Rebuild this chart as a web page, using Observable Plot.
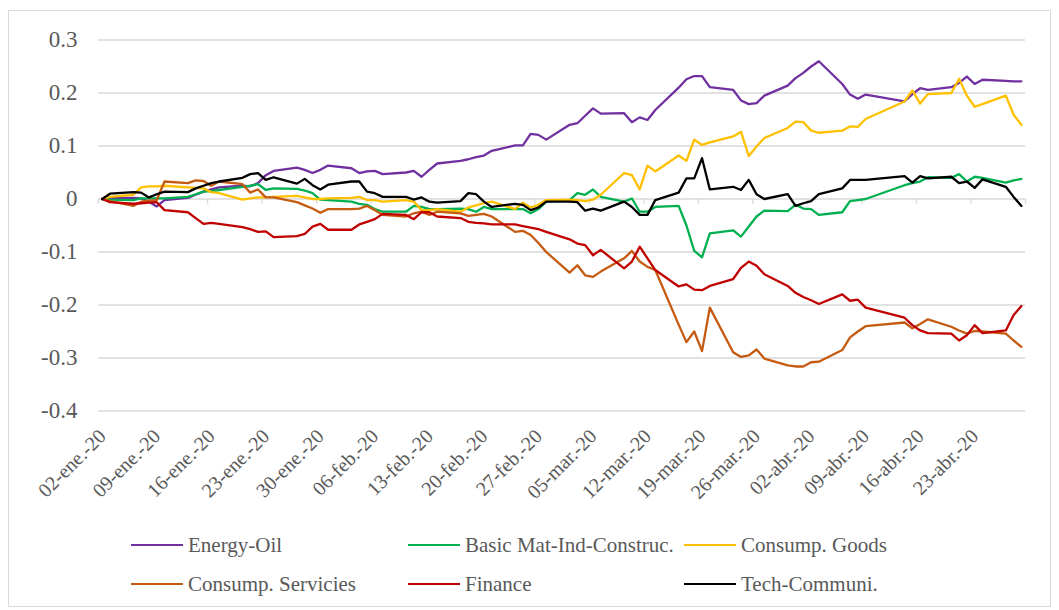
<!DOCTYPE html>
<html>
<head>
<meta charset="utf-8">
<script src="https://cdn.jsdelivr.net/npm/d3@7"></script>
<script src="https://cdn.jsdelivr.net/npm/@observablehq/plot@0.6"></script>
<style>
  html, body { margin: 0; padding: 0; background: #fff; }
  #chart { position: relative; width: 1059px; height: 610px; background: #fff; font-family: "Liberation Serif", "Times New Roman", serif; overflow: hidden; }
  #border { position: absolute; left: 8px; top: 10px; width: 1043px; height: 597px; border: 1px solid #d9d9d9; box-sizing: border-box; }
  #plot { position: absolute; left: 0; top: 0; }
  .item { position: absolute; height: 26px; display: flex; align-items: center; white-space: nowrap; }
  .swatch { display: inline-block; width: 52px; height: 2.5px; }
  .label { margin-left: 5px; font-size: 21px; color: #595959; line-height: 26px; }
</style>
</head>
<body>
<div id="chart"><div id="border"></div><div id="plot"></div></div>
<script>
// ---- data ----
const dates = [
  "2020-01-02","2020-01-03","2020-01-06","2020-01-07","2020-01-08","2020-01-09","2020-01-10","2020-01-13","2020-01-14","2020-01-15","2020-01-16","2020-01-17","2020-01-20","2020-01-21","2020-01-22","2020-01-23","2020-01-24","2020-01-27","2020-01-28","2020-01-29","2020-01-30","2020-01-31",
  "2020-02-03","2020-02-04","2020-02-05","2020-02-06","2020-02-07","2020-02-10","2020-02-11","2020-02-12","2020-02-13","2020-02-14","2020-02-17","2020-02-18","2020-02-19","2020-02-20","2020-02-21","2020-02-24","2020-02-25","2020-02-26","2020-02-27","2020-02-28",
  "2020-03-02","2020-03-03","2020-03-04","2020-03-05","2020-03-06","2020-03-09","2020-03-10","2020-03-11","2020-03-12","2020-03-13","2020-03-16","2020-03-17","2020-03-18","2020-03-19","2020-03-20","2020-03-23","2020-03-24","2020-03-25","2020-03-26","2020-03-27","2020-03-30","2020-03-31",
  "2020-04-01","2020-04-02","2020-04-03","2020-04-06","2020-04-07","2020-04-08","2020-04-09","2020-04-14","2020-04-15","2020-04-16","2020-04-17","2020-04-20","2020-04-21","2020-04-22","2020-04-23","2020-04-24","2020-04-27","2020-04-28","2020-04-29"
];

const seriesNames = ["Energy-Oil", "Basic Mat-Ind-Construc.", "Consump. Goods", "Consump. Servicies", "Finance", "Tech-Communi."];
const seriesColors = ["#7030A0", "#00B050", "#FFC000", "#C55A11", "#C00000", "#000000"];

const energyOil = [
  0, 0.002, 0.002, 0.001, -0.005, -0.014, -0.002, 0.002, 0.008, 0.014, 0.018, 0.022, 0.025, 0.024, 0.030, 0.045, 0.053, 0.059, 0.055, 0.049, 0.055, 0.063,
  0.058, 0.049, 0.052, 0.053, 0.047, 0.050, 0.053, 0.042, 0.055, 0.067, 0.072, 0.075, 0.079, 0.082, 0.091, 0.101, 0.101, 0.123, 0.121, 0.112,
  0.140, 0.143, 0.157, 0.171, 0.161, 0.162, 0.145, 0.154, 0.149, 0.168, 0.210, 0.226, 0.232, 0.232, 0.211, 0.206, 0.186, 0.179, 0.181, 0.195, 0.214, 0.228,
  0.238, 0.250, 0.260, 0.217, 0.197, 0.189, 0.197, 0.184, 0.198, 0.209, 0.206, 0.211, 0.219, 0.231, 0.217, 0.225, 0.223, 0.222, 0.222
];
const basicMat = [
  0, -0.001, -0.002, 0.001, 0.001, 0.001, 0.001, 0.004, 0.009, 0.014, 0.015, 0.017, 0.023, 0.025, 0.028, 0.017, 0.020, 0.019, 0.016, 0.011, -0.001, -0.002,
  -0.005, -0.009, -0.011, -0.019, -0.024, -0.024, -0.013, -0.015, -0.019, -0.019, -0.018, -0.019, -0.024, -0.015, -0.019, -0.019, -0.019, -0.027, -0.019, -0.005,
  -0.002, 0.011, 0.008, 0.018, 0.004, -0.005, 0.001, -0.024, -0.024, -0.015, -0.013, -0.050, -0.098, -0.110, -0.065, -0.059, -0.071, -0.052, -0.033, -0.022, -0.023, -0.011,
  -0.018, -0.019, -0.030, -0.025, -0.004, -0.002, 0.000, 0.026, 0.030, 0.033, 0.041, 0.040, 0.047, 0.033, 0.042, 0.040, 0.031, 0.035, 0.038
];
const consumpGoods = [
  0, 0.004, 0.008, 0.022, 0.024, 0.024, 0.025, 0.022, 0.021, 0.020, 0.013, 0.011, -0.001, 0.001, 0.003, 0.003, 0.004, 0.006, 0.003, 0.000, 0.000, 0.001,
  0.002, 0.004, -0.002, -0.002, -0.005, -0.002, -0.005, -0.021, -0.021, -0.019, -0.024, -0.016, -0.012, -0.008, -0.005, -0.019, -0.007, -0.016, -0.011, -0.002,
  -0.001, -0.002, -0.004, -0.001, 0.008, 0.049, 0.045, 0.018, 0.063, 0.052, 0.082, 0.072, 0.112, 0.102, 0.107, 0.118, 0.127, 0.081, 0.099, 0.115, 0.134, 0.146,
  0.145, 0.129, 0.125, 0.129, 0.137, 0.136, 0.151, 0.184, 0.205, 0.180, 0.198, 0.200, 0.227, 0.195, 0.174, 0.179, 0.195, 0.159, 0.140
];
const consumpServ = [
  0, -0.004, -0.013, -0.005, -0.003, -0.002, 0.033, 0.030, 0.035, 0.034, 0.025, 0.033, 0.028, 0.012, 0.018, 0.003, 0.003, -0.006, -0.012, -0.018, -0.026, -0.019,
  -0.019, -0.018, -0.013, -0.021, -0.030, -0.033, -0.027, -0.024, -0.030, -0.024, -0.027, -0.032, -0.030, -0.028, -0.033, -0.062, -0.060, -0.068, -0.083, -0.100,
  -0.139, -0.125, -0.144, -0.147, -0.137, -0.112, -0.098, -0.118, -0.128, -0.134, -0.237, -0.270, -0.250, -0.287, -0.205, -0.289, -0.298, -0.295, -0.284, -0.301, -0.314, -0.316,
  -0.316, -0.308, -0.307, -0.285, -0.261, -0.250, -0.240, -0.233, -0.244, -0.236, -0.227, -0.241, -0.248, -0.254, -0.249, -0.250, -0.254, -0.267, -0.279
];
const finance = [
  0, -0.006, -0.009, -0.008, -0.007, -0.006, -0.021, -0.025, -0.036, -0.047, -0.045, -0.047, -0.053, -0.057, -0.062, -0.061, -0.072, -0.070, -0.066, -0.052, -0.047, -0.058,
  -0.058, -0.048, -0.043, -0.038, -0.028, -0.030, -0.038, -0.025, -0.025, -0.033, -0.036, -0.043, -0.045, -0.046, -0.048, -0.048, -0.051, -0.054, -0.057, -0.062,
  -0.076, -0.084, -0.087, -0.106, -0.096, -0.131, -0.118, -0.090, -0.112, -0.134, -0.165, -0.161, -0.171, -0.172, -0.164, -0.151, -0.130, -0.118, -0.126, -0.142, -0.164, -0.177,
  -0.185, -0.191, -0.198, -0.180, -0.192, -0.190, -0.205, -0.224, -0.238, -0.248, -0.253, -0.254, -0.267, -0.257, -0.238, -0.253, -0.248, -0.219, -0.202
];
const techCommuni = [
  0, 0.010, 0.013, 0.012, 0.003, 0.009, 0.014, 0.013, 0.020, 0.025, 0.030, 0.033, 0.040, 0.047, 0.049, 0.036, 0.041, 0.029, 0.038, 0.026, 0.018, 0.027,
  0.033, 0.033, 0.014, 0.011, 0.004, 0.004, -0.001, 0.003, -0.005, -0.007, -0.004, 0.011, 0.009, -0.005, -0.015, -0.009, -0.011, -0.021, -0.016, -0.005,
  -0.005, -0.006, -0.022, -0.018, -0.022, -0.005, -0.015, -0.030, -0.030, -0.002, 0.012, 0.039, 0.039, 0.077, 0.018, 0.023, 0.017, 0.036, 0.009, 0.000, 0.009, -0.013,
  -0.008, -0.004, 0.009, 0.020, 0.036, 0.036, 0.036, 0.043, 0.031, 0.043, 0.039, 0.042, 0.030, 0.033, 0.021, 0.037, 0.023, 0.004, -0.013
];
const seriesValues = [energyOil, basicMat, consumpGoods, consumpServ, finance, techCommuni];

const yTicks = [-0.4, -0.3, -0.2, -0.1, 0, 0.1, 0.2, 0.3];
const xTickDates = ["2020-01-02","2020-01-09","2020-01-16","2020-01-23","2020-01-30","2020-02-06","2020-02-13","2020-02-20","2020-02-27","2020-03-05","2020-03-12","2020-03-19","2020-03-26","2020-04-02","2020-04-09","2020-04-16","2020-04-23"];
const xAxisEnd = "2020-04-30";
const monthAbbr = ["ene.", "feb.", "mar.", "abr.", "may.", "jun.", "jul.", "ago.", "sep.", "oct.", "nov.", "dic."];

// ---- build ----
const parse = d3.utcParse("%Y-%m-%d");
const fmtX = d => `${String(d.getUTCDate()).padStart(2, "0")}-${monthAbbr[d.getUTCMonth()]}-${String(d.getUTCFullYear()).slice(2)}`;
const fmtY = d => (Math.round(d * 10) / 10).toString();
const labelDates = xTickDates.map(parse);
const tickMarkDates = [...labelDates, parse(xAxisEnd)];

const rows = [];
seriesNames.forEach((name, s) => {
  dates.forEach((d, i) => rows.push({series: name, date: parse(d), value: seriesValues[s][i]}));
});

const FONT = "'Liberation Serif', 'Times New Roman', serif";
const lineMarks = seriesNames.map((name, s) =>
  Plot.line(rows.filter(r => r.series === name), {
    x: "date", y: "value", stroke: seriesColors[s], strokeWidth: 2.3,
    strokeLinejoin: "round", strokeLinecap: "round", dx: 3.7
  })
);

const plot = Plot.plot({
  width: 1059,
  height: 520,
  marginLeft: 98,
  marginRight: 34,
  marginTop: 39.5,
  marginBottom: 109.5,
  style: {fontFamily: FONT, background: "transparent", overflow: "visible"},
  x: {type: "utc", domain: [parse(dates[0]), parse(xAxisEnd)], label: null},
  y: {domain: [-0.4, 0.3], label: null},
  marks: [
    Plot.gridY({ticks: yTicks, stroke: "#d9d9d9", strokeOpacity: 1, strokeWidth: 1.3}),
    Plot.ruleX(tickMarkDates, {x: d => d, y1: 0, y2: -0.0098, stroke: "#d9d9d9", strokeWidth: 1.3}),
    Plot.axisY({ticks: yTicks, tickSize: 0, tickPadding: 21, fontSize: 23, fill: "#595959", tickFormat: fmtY, label: null}),
    Plot.axisX({ticks: labelDates, tickSize: 0, tickPadding: 22, tickRotate: -45, dx: 4, fontSize: 20, fill: "#595959", tickFormat: fmtX, label: null}),
    ...lineMarks
  ]
});
document.getElementById("plot").appendChild(plot);

// ---- legend ----
const chartEl = document.getElementById("chart");
const colX = [131, 408, 684];
const rowY = [545, 584];
seriesNames.forEach((name, i) => {
  const item = document.createElement("div");
  item.className = "item";
  item.style.left = colX[i % 3] + "px";
  item.style.top = (rowY[Math.floor(i / 3)] - 13) + "px";
  const sw = document.createElement("span");
  sw.className = "swatch";
  sw.style.background = seriesColors[i];
  const tx = document.createElement("span");
  tx.className = "label";
  tx.textContent = name;
  item.appendChild(sw);
  item.appendChild(tx);
  chartEl.appendChild(item);
});
</script>
</body>
</html>
